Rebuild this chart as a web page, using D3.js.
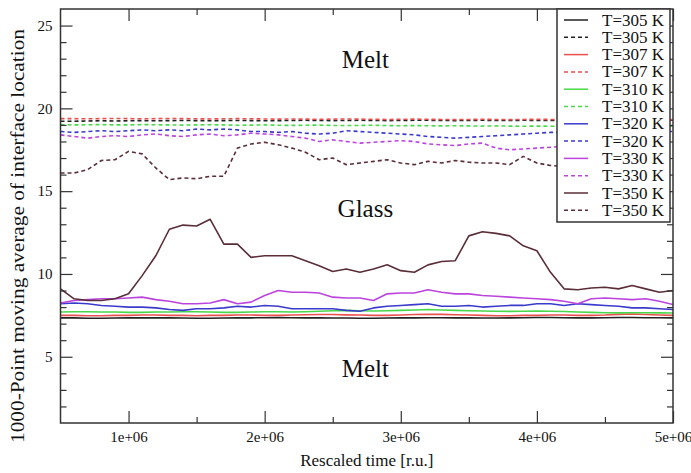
<!DOCTYPE html>
<html><head><meta charset="utf-8">
<script src="https://cdn.jsdelivr.net/npm/d3@7"></script>
<style>body{margin:0;background:#fff;}svg{display:block;} text{font-family:"Liberation Serif","Tinos","Times New Roman","DejaVu Serif",serif;}</style>
</head><body>
<svg id="chart" width="691" height="473"></svg>
<script>
// ---------- DATA ----------
const times = [5e5,6e5,7e5,8e5,9e5,1e6,1.1e6,1.2e6,1.3e6,1.4e6,1.5e6,1.6e6,1.7e6,1.8e6,1.9e6,2e6,2.1e6,2.2e6,2.3e6,2.4e6,2.5e6,2.6e6,2.7e6,2.8e6,2.9e6,3e6,3.1e6,3.2e6,3.3e6,3.4e6,3.5e6,3.6e6,3.7e6,3.8e6,3.9e6,4e6,4.1e6,4.2e6,4.3e6,4.4e6,4.5e6,4.6e6,4.7e6,4.8e6,4.9e6,5e6];

const solid305 = [7.35,7.35,7.33,7.33,7.34,7.35,7.35,7.36,7.35,7.34,7.33,7.33,7.34,7.35,7.35,7.36,7.37,7.36,7.35,7.35,7.34,7.34,7.33,7.33,7.34,7.35,7.35,7.36,7.36,7.35,7.35,7.34,7.34,7.35,7.36,7.37,7.37,7.36,7.35,7.35,7.36,7.37,7.37,7.36,7.36,7.35];
const solid307 = [7.5,7.5,7.48,7.48,7.5,7.5,7.52,7.52,7.5,7.5,7.48,7.5,7.5,7.52,7.52,7.5,7.5,7.52,7.54,7.55,7.55,7.53,7.52,7.5,7.5,7.52,7.55,7.57,7.56,7.54,7.52,7.5,7.48,7.48,7.5,7.5,7.52,7.52,7.5,7.5,7.52,7.56,7.58,7.55,7.52,7.5];
const solid310 = [7.7,7.72,7.72,7.7,7.7,7.68,7.68,7.7,7.7,7.72,7.72,7.7,7.68,7.68,7.7,7.72,7.72,7.7,7.72,7.75,7.78,7.8,7.78,7.76,7.78,7.8,7.82,7.85,7.82,7.8,7.78,7.76,7.75,7.74,7.75,7.76,7.75,7.73,7.7,7.68,7.66,7.65,7.66,7.66,7.65,7.64];
const solid320 = [8.2,8.25,8.2,8.1,8.05,8.0,8.0,7.95,7.85,7.8,7.9,7.9,7.95,8.05,8.0,8.1,8.05,7.9,7.9,7.9,7.9,7.8,7.75,7.95,8.05,8.1,8.15,8.2,8.05,8.05,8.1,8.0,8.05,8.1,8.1,8.2,8.2,8.1,8.2,8.15,8.1,8.05,7.95,7.95,7.9,7.85];
const solid330 = [8.25,8.4,8.45,8.5,8.5,8.55,8.6,8.45,8.35,8.2,8.2,8.25,8.45,8.2,8.3,8.7,9.0,8.9,8.9,8.85,8.6,8.55,8.55,8.4,8.8,8.85,8.85,9.05,8.9,8.8,8.8,8.7,8.65,8.6,8.55,8.5,8.45,8.35,8.2,8.5,8.55,8.5,8.45,8.5,8.35,8.15];
const solid350 = [9.1,8.5,8.4,8.4,8.5,8.8,9.9,11.1,12.7,12.95,12.9,13.3,11.8,11.8,11.0,11.1,11.1,11.1,10.8,10.5,10.15,10.3,10.1,10.3,10.55,10.2,10.1,10.55,10.75,10.8,12.3,12.55,12.45,12.3,11.7,11.4,10.1,9.1,9.05,9.15,9.2,9.1,9.3,9.1,8.9,9.0];

const dash305 = [19.22,19.22,19.24,19.25,19.24,19.25,19.26,19.25,19.26,19.27,19.26,19.25,19.26,19.27,19.26,19.25,19.26,19.27,19.28,19.27,19.26,19.27,19.28,19.27,19.26,19.27,19.28,19.28,19.27,19.26,19.27,19.28,19.27,19.27,19.28,19.27,19.27,19.28,19.27,19.27,19.28,19.28,19.27,19.27,19.28,19.28];
const dash307 = [19.38,19.38,19.37,19.38,19.39,19.38,19.37,19.38,19.39,19.38,19.37,19.36,19.37,19.38,19.37,19.36,19.35,19.36,19.35,19.34,19.35,19.36,19.35,19.34,19.33,19.34,19.35,19.34,19.33,19.32,19.33,19.34,19.33,19.32,19.33,19.34,19.33,19.32,19.33,19.33,19.32,19.32,19.33,19.33,19.32,19.32];
const dash310 = [19.02,19.0,19.01,19.02,19.0,19.0,19.02,19.01,19.0,18.99,19.0,19.01,19.0,18.98,18.99,19.0,18.98,18.97,18.98,18.99,18.97,18.96,18.97,18.98,18.96,18.95,18.96,18.95,18.94,18.95,18.94,18.93,18.94,18.93,18.92,18.93,18.92,18.92,18.93,18.92,18.92,18.93,18.92,18.92,18.92,18.92];
const dash320 = [18.6,18.55,18.6,18.65,18.6,18.65,18.7,18.65,18.7,18.65,18.75,18.7,18.75,18.7,18.6,18.6,18.55,18.6,18.5,18.45,18.5,18.65,18.6,18.55,18.5,18.45,18.4,18.3,18.25,18.2,18.25,18.3,18.35,18.4,18.45,18.5,18.55,18.55,18.6,18.6,18.6,18.6,18.6,18.6,18.6,18.6];
const dash330 = [18.4,18.3,18.2,18.3,18.35,18.3,18.4,18.45,18.35,18.3,18.4,18.45,18.35,18.4,18.5,18.45,18.4,18.3,18.2,18.0,18.1,18.0,17.9,17.95,18.0,18.05,18.0,17.85,17.8,17.75,17.85,17.9,17.6,17.5,17.55,17.6,17.65,17.7,17.7,17.7,17.7,17.7,17.7,17.7,17.7,17.7];
const dash350 = [16.1,16.1,16.3,16.85,16.9,17.4,17.25,16.4,15.7,15.8,15.75,15.9,15.9,17.6,17.85,17.95,17.8,17.6,17.35,16.9,17.0,16.6,16.7,16.8,16.9,16.7,16.6,16.8,16.7,16.85,16.75,16.7,16.7,16.6,17.1,16.7,16.55,16.5,16.6,16.6,16.6,16.6,16.6,16.6,16.6,16.6];

const seriesLabels = ["T=305 K","T=305 K","T=307 K","T=307 K","T=310 K","T=310 K","T=320 K","T=320 K","T=330 K","T=330 K","T=350 K","T=350 K"];
const seriesColors = ["#222222","#222222","#ea5050","#ea5050","#4ad84a","#4ad84a","#3a3acc","#3a3acc","#bb44dd","#bb44dd","#5a2e38","#5a2e38"];
const seriesDashed = [false,true,false,true,false,true,false,true,false,true,false,true];
const seriesValues = [solid305,dash305,solid307,dash307,solid310,dash310,solid320,dash320,solid330,dash330,solid350,dash350];

const xMajorTicks = [1e6,2e6,3e6,4e6,5e6];
const xTickLabels = ["1e+06","2e+06","3e+06","4e+06","5e+06"];
const xMinorTicks = [1.5e6,2.5e6,3.5e6,4.5e6];
const yMajorTicks = [5,10,15,20,25];
const yMinorTicks = [2,3,4,6,7,8,9,11,12,13,14,16,17,18,19,21,22,23,24];
const regionLabels = [{text:"Melt", v:22.8},{text:"Glass", v:13.8},{text:"Melt", v:4.1}];

// ---------- DRAW ----------
const svg = d3.select("#chart");
const L = 60.5, R = 673, T = 9, B = 423;
const x = d3.scaleLinear().domain([5e5, 5e6]).range([L, R]);
const y = d3.scaleLinear().domain([1, 26]).range([B, T]);
const font = '"Liberation Serif","Tinos","Times New Roman","DejaVu Serif",serif';
const axisColor = "#333";

svg.append("defs").append("clipPath").attr("id","clip")
  .append("rect").attr("x",L).attr("y",T).attr("width",R-L).attr("height",B-T);

// region labels
svg.append("g").selectAll("text").data(regionLabels).join("text")
  .attr("x", x(2.74e6)).attr("y", d => y(d.v))
  .attr("text-anchor","middle").attr("dominant-baseline","middle")
  .style("font-family",font).attr("font-size",25).attr("fill","#111")
  .text(d => d.text);

// lines
const line = d3.line().x((d,i) => x(times[i])).y(d => y(d));
const gl = svg.append("g").attr("clip-path","url(#clip)");
seriesValues.forEach((vals, k) => {
  gl.append("path").datum(vals)
    .attr("d", line).attr("fill","none")
    .attr("stroke", seriesColors[k]).attr("stroke-width", 1.6)
    .attr("stroke-dasharray", seriesDashed[k] ? "4,3" : null)
    .attr("stroke-linejoin","round");
});

// axes (inward ticks on all sides)
function styleAxis(g){
  g.attr("font-family",null).attr("font-size",null);
  g.select(".domain").remove();
  g.selectAll("line").attr("stroke",axisColor).attr("stroke-width",1.2);
  g.selectAll("text").style("font-family",font).attr("font-size",15).attr("fill","#111");
}
svg.append("g").attr("transform",`translate(0,${B})`)
  .call(d3.axisBottom(x).tickValues(xMajorTicks).tickSize(-12).tickPadding(8)
    .tickFormat((d,i) => xTickLabels[i])).call(styleAxis);
svg.append("g").attr("transform",`translate(0,${B})`)
  .call(d3.axisBottom(x).tickValues(xMinorTicks).tickSize(-6).tickFormat("")).call(styleAxis);
svg.append("g").attr("transform",`translate(0,${T})`)
  .call(d3.axisTop(x).tickValues(xMajorTicks).tickSize(-12).tickFormat("")).call(styleAxis);
svg.append("g").attr("transform",`translate(0,${T})`)
  .call(d3.axisTop(x).tickValues(xMinorTicks).tickSize(-6).tickFormat("")).call(styleAxis);
svg.append("g").attr("transform",`translate(${L},0)`)
  .call(d3.axisLeft(y).tickValues(yMajorTicks).tickSize(-12).tickPadding(8)).call(styleAxis);
svg.append("g").attr("transform",`translate(${L},0)`)
  .call(d3.axisLeft(y).tickValues(yMinorTicks).tickSize(-6).tickFormat("")).call(styleAxis);
svg.append("g").attr("transform",`translate(${R},0)`)
  .call(d3.axisRight(y).tickValues(yMajorTicks).tickSize(-12).tickFormat("")).call(styleAxis);
svg.append("g").attr("transform",`translate(${R},0)`)
  .call(d3.axisRight(y).tickValues(yMinorTicks).tickSize(-6).tickFormat("")).call(styleAxis);

// frame
svg.append("rect").attr("x",L).attr("y",T).attr("width",R-L).attr("height",B-T)
  .attr("fill","none").attr("stroke",axisColor).attr("stroke-width",1.5);

// axis titles
svg.append("text").attr("x",(L+R)/2).attr("y",466).attr("text-anchor","middle")
  .style("font-family",font).attr("font-size",17).attr("fill","#111")
  .text("Rescaled time [r.u.]");
svg.append("text").attr("transform",`translate(24,236) rotate(-90)`)
  .attr("text-anchor","middle").style("font-family",font).attr("font-size",19).attr("fill","#111")
  .attr("textLength",414).attr("lengthAdjust","spacingAndGlyphs")
  .text("1000-Point moving average of interface location");

// legend
const lgX = 557, lgY = T, lgW = R - 3 - lgX, rowH = 17.3;
const lg = svg.append("g");
lg.append("rect").attr("x",lgX).attr("y",lgY).attr("width",lgW).attr("height",213)
  .attr("fill","#fff").attr("stroke",axisColor).attr("stroke-width",1.5);
seriesLabels.forEach((lab,k) => {
  const cy = 20 + k*rowH;
  lg.append("line").attr("x1",564).attr("x2",588).attr("y1",cy).attr("y2",cy)
    .attr("stroke",seriesColors[k]).attr("stroke-width",1.5)
    .attr("stroke-dasharray", seriesDashed[k] ? "4,3" : null);
  lg.append("text").attr("x",664).attr("y",cy).attr("text-anchor","end")
    .attr("dominant-baseline","central").style("font-family",font).attr("font-size",17)
    .attr("fill","#111").text(lab);
});
</script>
</body></html>
